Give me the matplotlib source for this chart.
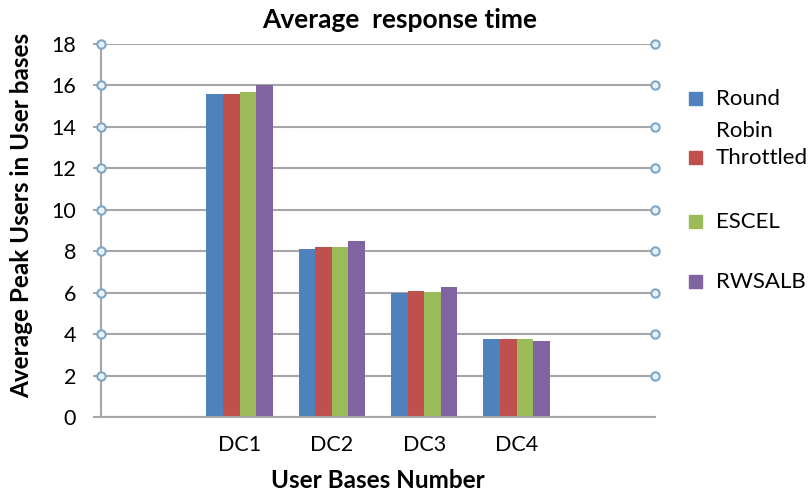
import numpy as np
import matplotlib.pyplot as plt
from matplotlib.patches import Rectangle

plt.rcParams['font.family'] = ['Lato', 'DejaVu Sans']

categories = ["", "DC1", "DC2", "DC3", "DC4", ""]
series = ["Round\nRobin", "Throttled", "ESCEL", "RWSALB"]
round_robin = [0, 15.6, 8.1, 6.0, 3.75]
throttled = [0, 15.6, 8.2, 6.1, 3.75]
escel = [0, 15.7, 8.2, 6.05, 3.75]
rwsalb = [0, 16.0, 8.5, 6.25, 3.65]
values = [round_robin, throttled, escel, rwsalb]
colors = ["#4F81BD", "#C0504D", "#9BBB59", "#8064A2"]
yticks = np.arange(0, 20, 2)

fig = plt.figure(figsize=(8.11, 4.95), dpi=100)
ax = fig.add_axes([101 / 811, 78 / 495, 554 / 811, 373 / 495])

grid_c = "#A6A6A6"
n_cat = len(categories)
bw = 0.18
for i, (vals, col) in enumerate(zip(values, colors)):
    x = np.arange(1, len(vals)) + (i - 1.5) * bw
    ax.bar(x, vals[1:], width=bw, color=col, zorder=3)

ax.set_xlim(-0.5, n_cat - 0.5)
ax.set_ylim(0, 18)
ax.set_yticks(yticks)
ax.set_xticks(np.arange(n_cat))
ax.set_xticklabels(categories, fontsize=15.5)
ax.tick_params(axis='x', length=0, pad=13)
ax.tick_params(axis='y', length=6, width=1.5, color=grid_c, labelsize=15.5, pad=12)
ax.yaxis.grid(True, color=grid_c, linewidth=1.5, zorder=0)
ax.set_axisbelow(True)
for s in ["top", "right", "bottom"]:
    ax.spines[s].set_visible(False)
ax.spines["left"].set_color(grid_c)
ax.spines["left"].set_linewidth(1.5)
ax.axhline(0, color=grid_c, linewidth=1.5, zorder=4, clip_on=False)

# circle markers at both ends of the gridlines
for xe in [-0.5, n_cat - 0.5]:
    ax.plot([xe] * (len(yticks) - 1), yticks[1:], 'o', ms=6, mfc="#E8F1F8",
            mec="#7EA6C8", mew=1.5, clip_on=False, zorder=5)

fig.text(400 / 811, 1 - 20 / 495, "Average  response time", ha='center', va='center',
         fontsize=19, fontweight='bold')
fig.text(22 / 811, 1 - 215 / 495, "Average Peak Users in User bases", rotation=90,
         ha='center', va='center', fontsize=17.5, fontweight='bold')
fig.text(378 / 811, 1 - 480 / 495, "User Bases Number", ha='center', va='center',
         fontsize=17.5, fontweight='bold')

# legend
leg_y = [99, 158, 222, 282]
for name, col, yp in zip(series, colors, leg_y):
    fig.patches.append(Rectangle((689 / 811, 1 - (yp + 6) / 495), 13 / 811, 13 / 495,
                                 color=col, transform=fig.transFigure, figure=fig))
    fig.text(716 / 811, 1 - (yp - 10) / 495, name, ha='left', va='top', fontsize=16,
             linespacing=1.75)

plt.savefig("out.png", dpi=100)
